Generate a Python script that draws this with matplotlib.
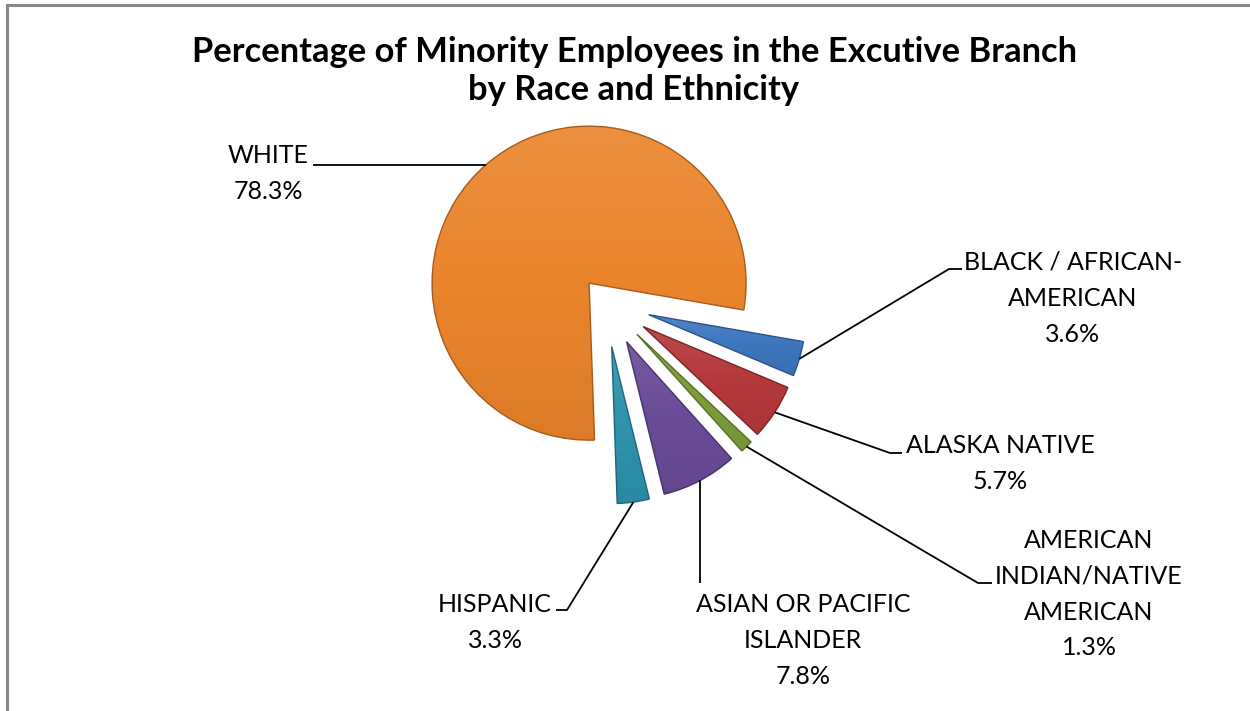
import numpy as np
import matplotlib
matplotlib.use("Agg")
import matplotlib.pyplot as plt
from matplotlib.colors import LinearSegmentedColormap, to_rgb

# ---- data ----
categories = ["WHITE", "BLACK / AFRICAN-AMERICAN", "ALASKA NATIVE",
              "AMERICAN INDIAN/NATIVE AMERICAN", "ASIAN OR PACIFIC ISLANDER", "HISPANIC"]
values = [78.3, 3.6, 5.7, 1.3, 7.8, 3.3]
label_lines = [["WHITE"], ["BLACK / AFRICAN-", "AMERICAN"], ["ALASKA NATIVE"],
               ["AMERICAN", "INDIAN/NATIVE", "AMERICAN"], ["ASIAN OR PACIFIC", "ISLANDER"],
               ["HISPANIC"]]
title = "Percentage of Minority Employees in the Excutive Branch\nby Race and Ethnicity"

# ---- style / layout ----
colors = ["#EA842B", "#3D76BE", "#B5383A", "#7D9E38", "#6A4B97", "#2E92AD"]
edge_colors = ["#A85A1A", "#2A5488", "#7E2326", "#566F26", "#47316A", "#1D6679"]
explode_px = [25, 45, 45, 45, 45, 45]
W, H = 1250, 711
FONT = "Lato"

def Y(y):
    return H - y

def shade(c, f):
    r = np.array(to_rgb(c))
    return tuple(np.clip(r + f * (1 - r) if f > 0 else r * (1 + f), 0, 1))

fig = plt.figure(figsize=(12.5, 7.11), dpi=100)
ax = fig.add_axes([0, 0, 1, 1])

wedges, _ = ax.pie(values, colors=colors, startangle=-88, counterclock=False,
                   explode=explode_px, radius=157, center=(605.5, Y(302)),
                   wedgeprops=dict(linewidth=1.0))

grad = np.linspace(0, 1, 256).reshape(-1, 1)
for w, c, ec in zip(wedges, colors, edge_colors):
    ext = w.get_path().get_extents()
    cmap = LinearSegmentedColormap.from_list("g", [shade(c, -0.06), c, shade(c, 0.10)])
    im = ax.imshow(grad, cmap=cmap, extent=[ext.x0, ext.x1, ext.y0, ext.y1],
                   origin="lower", interpolation="bilinear", aspect="auto", zorder=1)
    im.set_clip_path(w)
    w.set_facecolor("none")
    w.set_edgecolor(ec)
    w.set_zorder(2)

ax.set_xlim(0, W)
ax.set_ylim(0, H)
ax.set_aspect("equal")
ax.set_axis_off()

# label layout: (block center x, first baseline y in image px), leader elbow points
label_pos = [(268, 163), (1073, 270), (1000, 453), (1089, 548), (803, 612), (495, 612)]
leaders = [[(313, None)], [(949, 269), (962, 269)], [(890, 453), (902, 453)],
           [(978, 583), (992, 583)], [(None, 583)], [(567, 610), (556, 610)]]
spacing = 35.8

for w, v, lines, (cx, by), pts in zip(wedges, values, label_lines, label_pos, leaders):
    ang = np.deg2rad((w.theta1 + w.theta2) / 2)
    ax_, ay_ = w.center[0] + w.r * np.cos(ang), w.center[1] + w.r * np.sin(ang)
    xs, ys = [ax_], [ay_]
    for px, py in pts:
        xs.append(ax_ if px is None else px)
        ys.append(ay_ if py is None else Y(py))
    ax.plot(xs, ys, color="black", lw=1.3, solid_capstyle="butt", zorder=3)
    all_lines = lines + [f"{v:.1f}%"]
    for i, t in enumerate(all_lines):
        ax.text(cx, Y(by + i * spacing), t, ha="center", va="baseline",
                fontsize=18, family=FONT, color="black")

# title
for i, t in enumerate(title.split("\n")):
    ax.text(634, Y(62 + i * 38), t, ha="center", va="baseline", fontsize=24.8,
            fontweight="bold", family=FONT, color="black")

# chart border (left & top visible)
ax.plot([6.5, 6.5, W + 5], [-5, Y(4.5), Y(4.5)], color="#888888", lw=2.2,
        solid_joinstyle="miter", clip_on=False)

fig.savefig("out.png", dpi=100, facecolor="white")
